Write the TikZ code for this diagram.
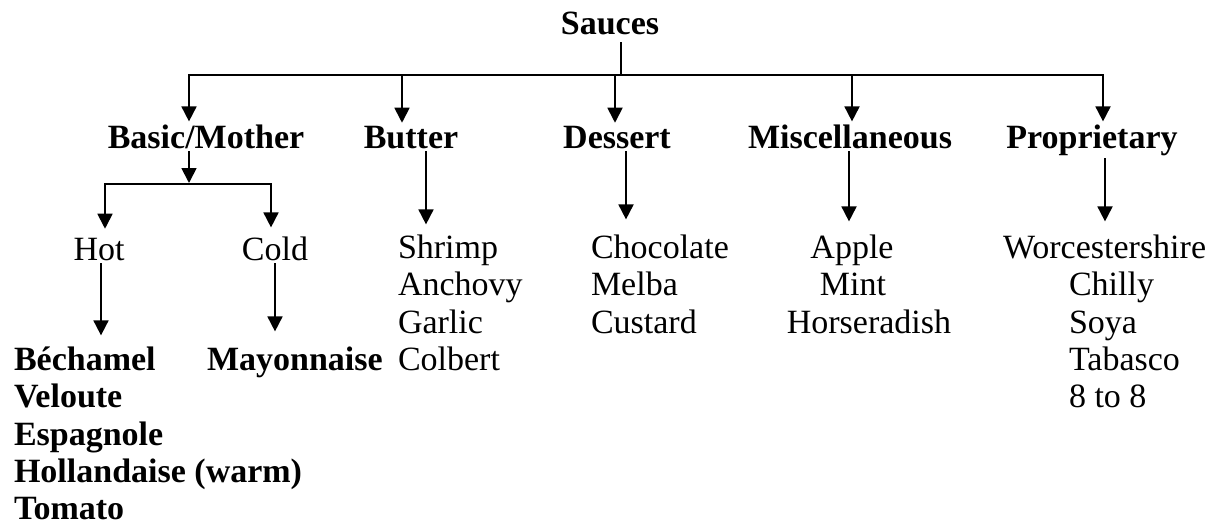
\documentclass[tikz,border=0pt]{standalone}
\usepackage{fontspec}
\setmainfont{Liberation Serif}
\usetikzlibrary{arrows.meta}

\tikzset{
  txt/.style={inner sep=0pt, outer sep=3pt, font=\fontsize{34}{37}\selectfont},
  head/.style={txt, font=\fontsize{34}{37}\selectfont\bfseries},
  line/.style={line width=1.8pt},
  arr/.style={line, -{Triangle[width=15pt,length=15pt]}},
  both/.style={line, {Triangle[width=15pt,length=15pt]}-{Triangle[width=15pt,length=15pt]}},
  tolist/.style={arr, shorten >=10pt}
}

\begin{document}
\begin{tikzpicture}[x=1pt, y=-1pt]
    \useasboundingbox (0,0) rectangle (1220,524);

    \node[head, anchor=base] (sauces) at (610,35) {Sauces};

    \node[head, anchor=base] (basic) at (206,148) {Basic/Mother};
    \node[head, anchor=base] (butter) at (411,148) {Butter};
    \node[head, anchor=base] (dessert) at (617,148) {Dessert};
    \node[head, anchor=base] (misc) at (850,148) {Miscellaneous};
    \node[head, anchor=base] (prop) at (1092,148) {Proprietary};

    \node[txt, anchor=base] (hot) at (99,260) {Hot};
    \node[txt, anchor=base] (cold) at (275,260) {Cold};

    \node[head, anchor=base west] (bechamel) at (11,370) {Béchamel};
    \node[head, anchor=base west] (veloute) at (11,407) {Veloute};
    \node[head, anchor=base west] (espagnole) at (11,445) {Espagnole};
    \node[head, anchor=base west] (hollandaise) at (11,482) {Hollandaise (warm)};
    \node[head, anchor=base west] (tomato) at (11,519) {Tomato};
    \node[head, anchor=base west] (mayonnaise) at (204,370) {Mayonnaise};

    \node[txt, anchor=base west] (shrimp) at (395,258) {Shrimp};
    \node[txt, anchor=base west] (anchovy) at (395,295) {Anchovy};
    \node[txt, anchor=base west] (garlic) at (395,333) {Garlic};
    \node[txt, anchor=base west] (colbert) at (395,370) {Colbert};

    \node[txt, anchor=base west] (chocolate) at (588,258) {Chocolate};
    \node[txt, anchor=base west] (melba) at (588,295) {Melba};
    \node[txt, anchor=base west] (custard) at (588,333) {Custard};

    \node[txt, anchor=base] (apple) at (852,258) {Apple};
    \node[txt, anchor=base] (mint) at (853,295) {Mint};
    \node[txt, anchor=base] (horseradish) at (869,333) {Horseradish};

    \node[txt, anchor=base west] (worcester) at (1000,258) {Worcestershire};
    \node[txt, anchor=base west] (chilly) at (1066,295) {Chilly};
    \node[txt, anchor=base west] (soya) at (1066,333) {Soya};
    \node[txt, anchor=base west] (tabasco) at (1066,370) {Tabasco};
    \node[txt, anchor=base west] (eight) at (1066,407) {8 to 8};


    \coordinate (hub) at (621,75);
    \coordinate (dBasic) at (189,75);
    \coordinate (dButter) at (402,75);
    \coordinate (dDessert) at (615,75);
    \coordinate (dMisc) at (852,75);
    \coordinate (dProp) at (1103,75);

    \draw[line, shorten <=4pt] (sauces.south -| hub) -- (hub);
    \draw[both] (basic.north -| dBasic) -- (dBasic) -- (dProp) -- (prop.north -| dProp);
    \draw[arr] (dButter) -- (butter.north -| dButter);
    \draw[arr] (dDessert) -- (dessert.north -| dDessert);
    \draw[arr] (dMisc) -- (misc.north -| dMisc);

    \coordinate (split) at (189,184);
    \coordinate (sHot) at (105,184);
    \coordinate (sCold) at (271,184);

    \draw[arr, shorten >=1pt] (basic.south -| split) -- (split);
    \draw[both, shorten <=6pt, shorten >=6pt] (hot.north -| sHot) -- (sHot) -- (sCold) -- (cold.north -| sCold);

    \draw[tolist, shorten >=7pt] (butter.south -| 426,0) -- (shrimp.north -| 426,0);
    \draw[tolist, shorten >=12pt] (dessert.south -| 626,0) -- (chocolate.north -| 626,0);
    \draw[tolist] (misc.south -| 849,0) -- (apple.north -| 849,0);
    \draw[tolist] (prop.south -| 1105,0) -- (worcester.north -| 1105,0);
    \draw[tolist, shorten >=8pt] (hot.south -| 101,0) -- (bechamel.north -| 101,0);
    \draw[tolist, shorten >=12pt] (cold.south -| 275,0) -- (mayonnaise.north -| 275,0);
\end{tikzpicture}
\end{document}
